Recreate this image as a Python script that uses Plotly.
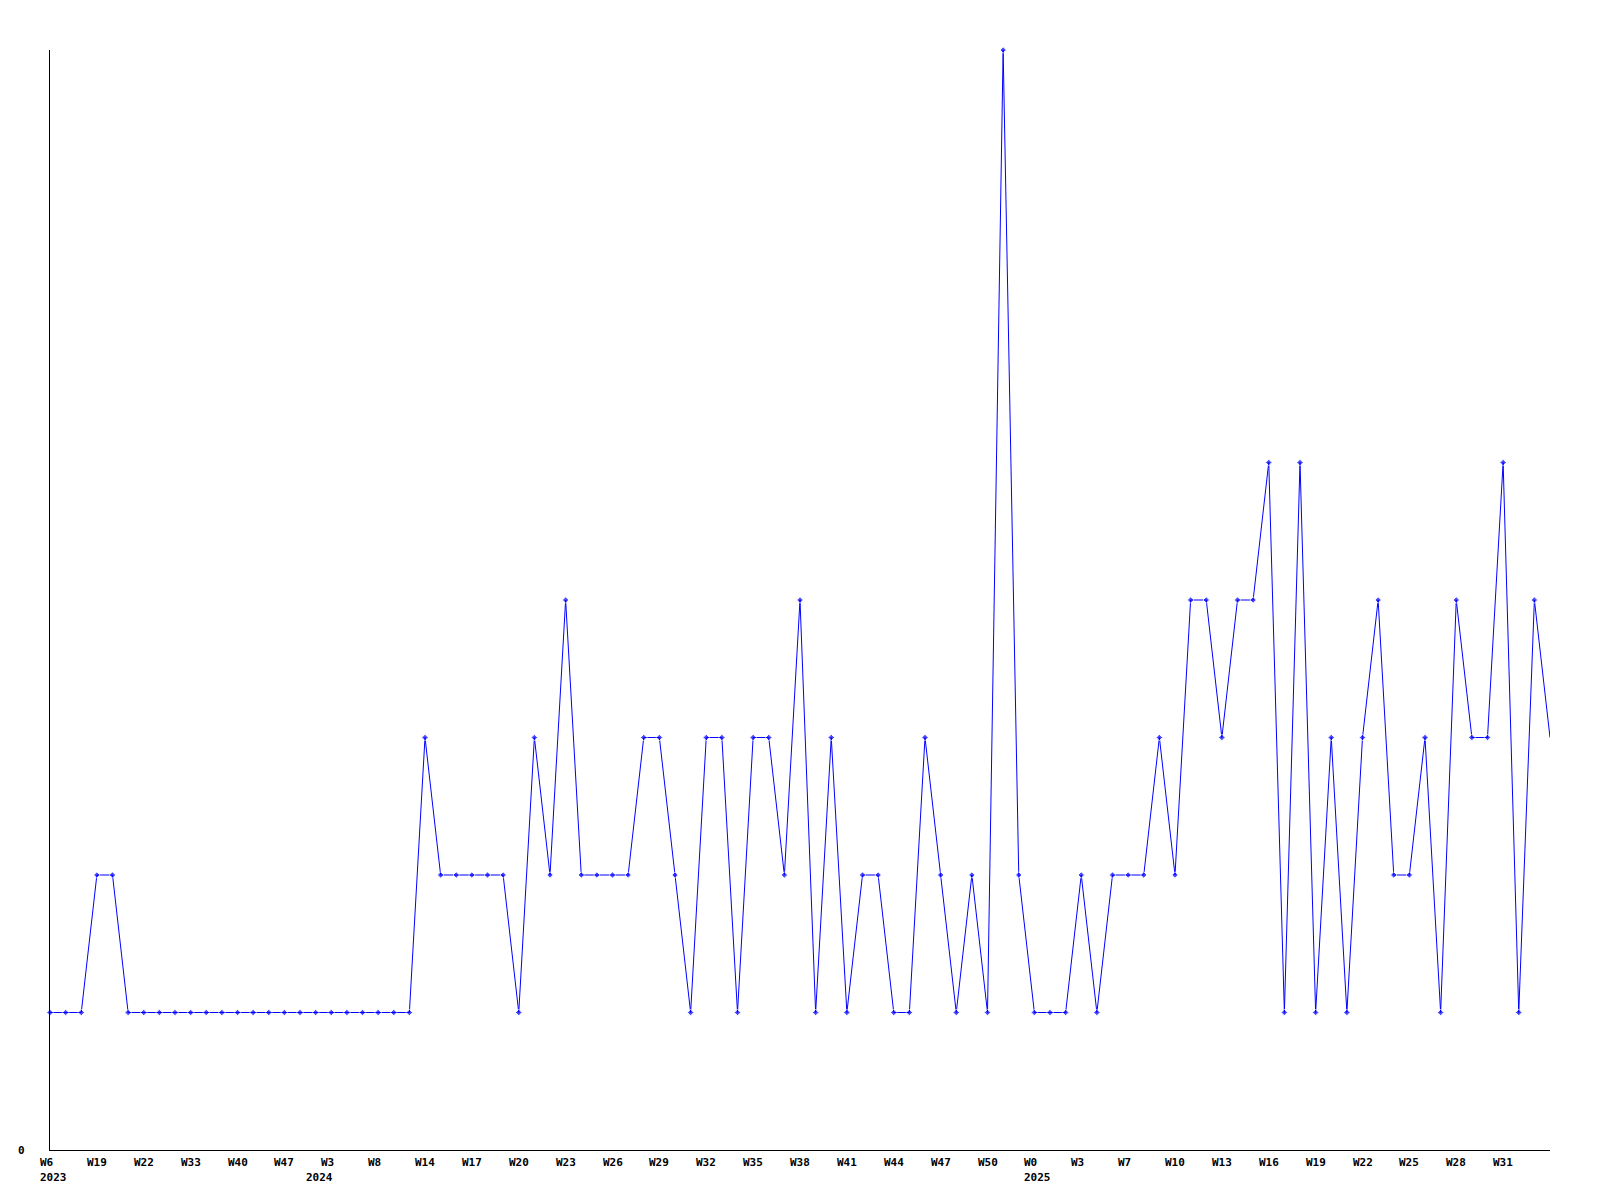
import plotly.graph_objects as go

# Weekly counts (one point per week)
values = [1, 1, 1, 2, 2, 1, 1, 1, 1, 1, 1, 1, 1, 1, 1, 1, 1, 1, 1, 1,
          1, 1, 1, 1, 3, 2, 2, 2, 2, 2, 1, 3, 2, 4, 2, 2, 2, 2, 3, 3,
          2, 1, 3, 3, 1, 3, 3, 2, 4, 1, 3, 1, 2, 2, 1, 1, 3, 2, 1, 2,
          1, 8, 2, 1, 1, 1, 2, 1, 2, 2, 2, 3, 2, 4, 4, 3, 4, 4, 5, 1,
          5, 1, 3, 1, 3, 4, 2, 2, 3, 1, 4, 3, 3, 5, 1, 4, 3]
x_index = list(range(len(values)))

tick_index = list(range(0, 94, 3))
tick_labels = ["W6", "W19", "W22", "W33", "W40", "W47", "W3", "W8", "W14", "W17",
               "W20", "W23", "W26", "W29", "W32", "W35", "W38", "W41", "W44", "W47",
               "W50", "W0", "W3", "W7", "W10", "W13", "W16", "W19", "W22", "W25",
               "W28", "W31"]
year_index = [0, 17, 63]
year_labels = ["2023", "2024", "2025"]

FONT = dict(family="DejaVu Sans Mono", size=11, color="black")

marker_sizes = [5] * (len(values) - 1) + [0]

fig = go.Figure()
fig.add_trace(go.Scatter(
    x=x_index, y=values, mode="lines+markers",
    line=dict(color="#0000ff", width=1),
    marker=dict(color="#0000ff", symbol="diamond", size=marker_sizes),
    cliponaxis=False, showlegend=False, hoverinfo="skip",
))

annotations = []
for i, t in zip(tick_index, tick_labels):
    annotations.append(dict(x=i, xref="x", y=0, yref="paper", text="<b>" + t + "</b>",
                            showarrow=False, xanchor="left", yanchor="middle",
                            xshift=-11, yshift=-12, borderpad=0, font=FONT))
for i, t in zip(year_index, year_labels):
    annotations.append(dict(x=i, xref="x", y=0, yref="paper", text="<b>" + t + "</b>",
                            showarrow=False, xanchor="left", yanchor="middle",
                            xshift=-11, yshift=-27, borderpad=0, font=FONT))
annotations.append(dict(x=0, xref="paper", y=0, yref="y", text="<b>0</b>",
                        showarrow=False, xanchor="right", yanchor="middle",
                        xshift=-24, borderpad=0, font=FONT))

fig.update_layout(
    width=1592, height=1192,
    margin=dict(l=42, r=50, t=42, b=50),
    paper_bgcolor="white", plot_bgcolor="white",
    xaxis=dict(range=[0, 96], showgrid=False, zeroline=False, showticklabels=False,
               ticks="", showline=True, linecolor="black", linewidth=1),
    yaxis=dict(range=[0, 8], showgrid=False, zeroline=False, showticklabels=False,
               ticks="", showline=True, linecolor="black", linewidth=1),
    annotations=annotations,
)

fig.write_html("out.html")
